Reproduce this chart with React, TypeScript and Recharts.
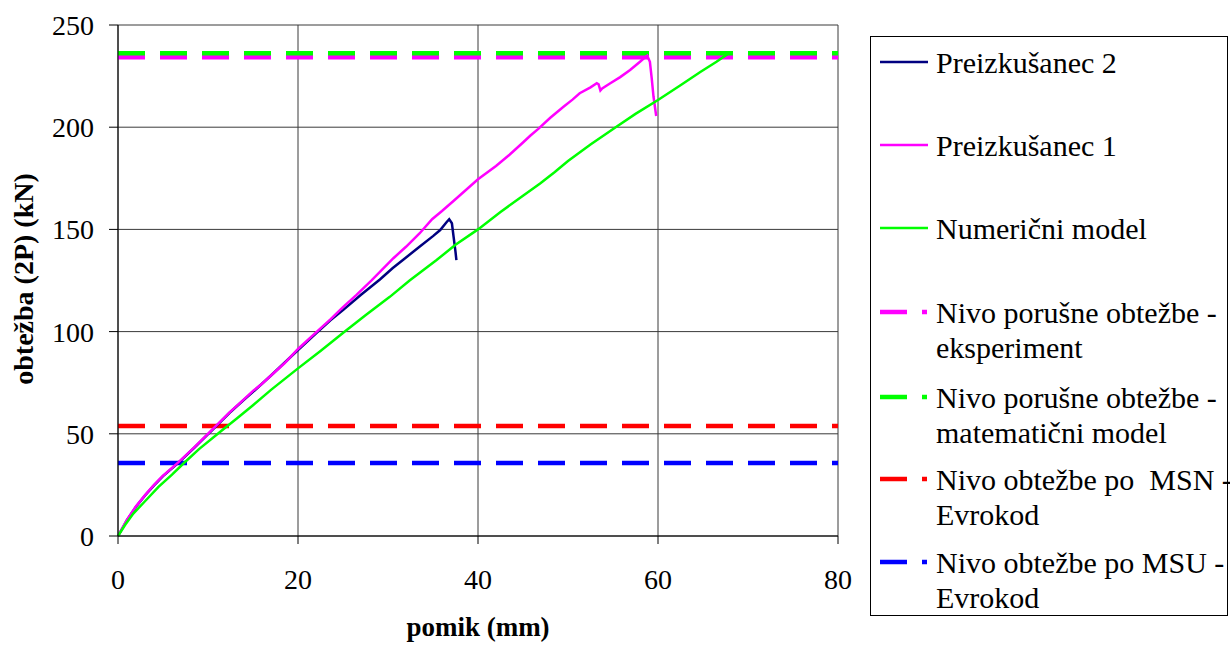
import React from 'react'
import { LineChart, Line, XAxis, YAxis, CartesianGrid, ReferenceLine, Label } from 'recharts'

// pomik (mm) / obtežba 2P (kN)
const preizkusanec2: [number, number][] = [
  [0, 0], [1, 7.8], [2, 14.3], [3, 19.8], [4, 24.8], [5, 29.3], [6.7, 35.8], [8.5, 43.3],
  [10.8, 53.3], [12.4, 60.3], [13.9, 66.3], [15, 70.5], [17, 78.5], [20, 91], [22.1, 99.5],
  [23.6, 105.5], [25, 110.5], [27, 118], [29.1, 125.5], [30.5, 131], [31.9, 135.9],
  [33.5, 141.5], [35, 146.7], [35.8, 149.7], [36.5, 153.5], [36.8, 155], [37.1, 153],
  [37.3, 146], [37.5, 139], [37.6, 135],
]

const preizkusanec1: [number, number][] = [
  [0, 0], [1, 8], [2, 14.5], [3, 20], [4, 25], [5, 29.5], [6.7, 36], [8.5, 43.5],
  [10.8, 53.5], [12.4, 60.5], [13.9, 66.5], [15, 71], [16, 74.5], [17, 78.5], [18.5, 84.5],
  [20, 91.5], [22.1, 100], [23.6, 106], [25, 112], [26.5, 118], [28.2, 125.2], [30.6, 135.9],
  [32, 141.5], [33.5, 148], [34.9, 155], [36, 159], [37.4, 164.4], [40, 174.5], [42, 181],
  [43.5, 186.5], [45, 192.5], [45.8, 195.8], [46.7, 199.2], [48, 204.5], [49.5, 210], [50.5, 213.5],
  [51.3, 216.6], [52.5, 219.5], [53.2, 221.5], [53.4, 221], [53.6, 218], [53.8, 219],
  [54.7, 221.5], [55.8, 224.5], [56.9, 228], [58, 232], [58.5, 234], [58.8, 235], [59.1, 232],
  [59.3, 224], [59.5, 215], [59.8, 205.5],
]

const numericniModel: [number, number][] = [
  [0, 0], [0.8, 5.5], [1.7, 11], [3, 17], [4.5, 24], [6, 30], [7.3, 35.6], [9, 42.5],
  [11.5, 51.5], [13.2, 57.5], [15, 64], [17, 71.5], [20, 82], [22.5, 90.5], [25.2, 100],
  [27.5, 108], [30.2, 117], [32.4, 125], [35.4, 135], [37.5, 142.5], [40, 150], [42.5, 158.5],
  [45, 166.5], [46.9, 172.5], [48.5, 178], [50, 183.5], [52.5, 191.5], [55.3, 200],
  [57.5, 206.5], [60, 213.3], [62.5, 220.5], [64.7, 227], [66.5, 232], [67.8, 236],
]

const seriesNames = ['Preizkušanec 2', 'Preizkušanec 1', 'Numerični model']

// horizontal load levels (kN)
const levelValues = [234.2, 236.2, 53.8, 35.7]
const levelNames = [
  ['Nivo porušne obtežbe -', 'eksperiment'],
  ['Nivo porušne obtežbe -', 'matematični model'],
  ['Nivo obtežbe po  MSN -', 'Evrokod'],
  ['Nivo obtežbe po MSU -', 'Evrokod'],
]

const xTicks = [0, 20, 40, 60, 80]
const yTicks = [0, 50, 100, 150, 200, 250]

const seriesColors = ['#000080', '#FF00FF', '#00FF00']
const levelColors = ['#FF00FF', '#00FF00', '#FF0000', '#0000FF']

const FONT = '"Liberation Serif", "Times New Roman", serif'
const toPoints = (pts: [number, number][]) => pts.map(([x, y]) => ({ x, y }))
const seriesData = [preizkusanec2, preizkusanec1, numericniModel].map(toPoints)

const tickStyle = { fill: '#000', fontSize: 28, fontFamily: FONT }

function LegendBox() {
  // first-line centres of each entry, relative to the box
  const rowTops = [25, 108, 191, 275, 360, 442, 525]
  const entries = [
    ...seriesNames.map((n, i) => ({ lines: [n], color: seriesColors[i], dashed: false })),
    ...levelNames.map((l, i) => ({ lines: l, color: levelColors[i], dashed: true })),
  ]
  return (
    <div
      style={{
        position: 'absolute',
        left: 870,
        top: 36,
        width: 358,
        height: 580,
        border: '1px solid #000',
        boxSizing: 'border-box',
        fontFamily: FONT,
        fontSize: 30,
        color: '#000',
      }}
    >
      {entries.map((e, i) => (
        <div key={i} style={{ position: 'absolute', left: 0, top: rowTops[i] - 17.5, width: '100%' }}>
          <svg width={60} height={35} style={{ position: 'absolute', left: 9, top: 0 }}>
            {e.dashed ? (
              <>
                <line x1={0} x2={27} y1={17} y2={17} stroke={e.color} strokeWidth={4.5} />
                <line x1={42} x2={47} y1={17} y2={17} stroke={e.color} strokeWidth={4.5} />
              </>
            ) : (
              <line x1={0} x2={48} y1={17} y2={17} stroke={e.color} strokeWidth={2.5} />
            )}
          </svg>
          <div style={{ position: 'absolute', left: 65, top: 0, lineHeight: '35px', whiteSpace: 'pre' }}>
            {e.lines.map((t, j) => (
              <div key={j}>{t}</div>
            ))}
          </div>
        </div>
      ))}
    </div>
  )
}

export default function App() {
  return (
    <div style={{ position: 'absolute', left: 0, top: 0, width: 1230, height: 646, background: '#fff' }}>
      <LineChart width={860} height={646} margin={{ top: 25, right: 22, bottom: 50, left: 48 }}>
        <CartesianGrid stroke="#3a3a3a" strokeWidth={1} />
        <XAxis
          type="number"
          dataKey="x"
          domain={[0, 80]}
          ticks={xTicks}
          height={60}
          tick={tickStyle}
          tickSize={8}
          tickMargin={25}
          stroke="#000"
          allowDuplicatedCategory={false}
        >
          <Label
            content={() => (
              <text x={478} y={636} textAnchor="middle" fontFamily={FONT} fontSize={27} fontWeight="bold" fill="#000">
                pomik (mm)
              </text>
            )}
          />
        </XAxis>
        <YAxis
          type="number"
          domain={[0, 250]}
          ticks={yTicks}
          width={70}
          tick={tickStyle}
          tickSize={9}
          tickMargin={15}
          stroke="#000"
        >
          <Label
            content={() => (
              <text
                x={33}
                y={279}
                transform="rotate(-90 33 279)"
                textAnchor="middle"
                fontFamily={FONT}
                fontSize={28}
                fontWeight="bold"
                fill="#000"
              >
                obtežba (2P) (kN)
              </text>
            )}
          />
        </YAxis>
        {levelValues.map((v, i) => (
          <ReferenceLine
            key={'lvl' + i}
            y={v}
            stroke={levelColors[i]}
            strokeWidth={4.5}
            strokeDasharray="27 15"
            ifOverflow="extendDomain"
          />
        ))}
        {seriesData.map((d, i) => (
          <Line
            key={seriesNames[i]}
            data={d}
            dataKey="y"
            name={seriesNames[i]}
            type="linear"
            stroke={seriesColors[i]}
            strokeWidth={2.5}
            dot={false}
            activeDot={false}
            isAnimationActive={false}
          />
        ))}
      </LineChart>
      <LegendBox />
    </div>
  )
}
